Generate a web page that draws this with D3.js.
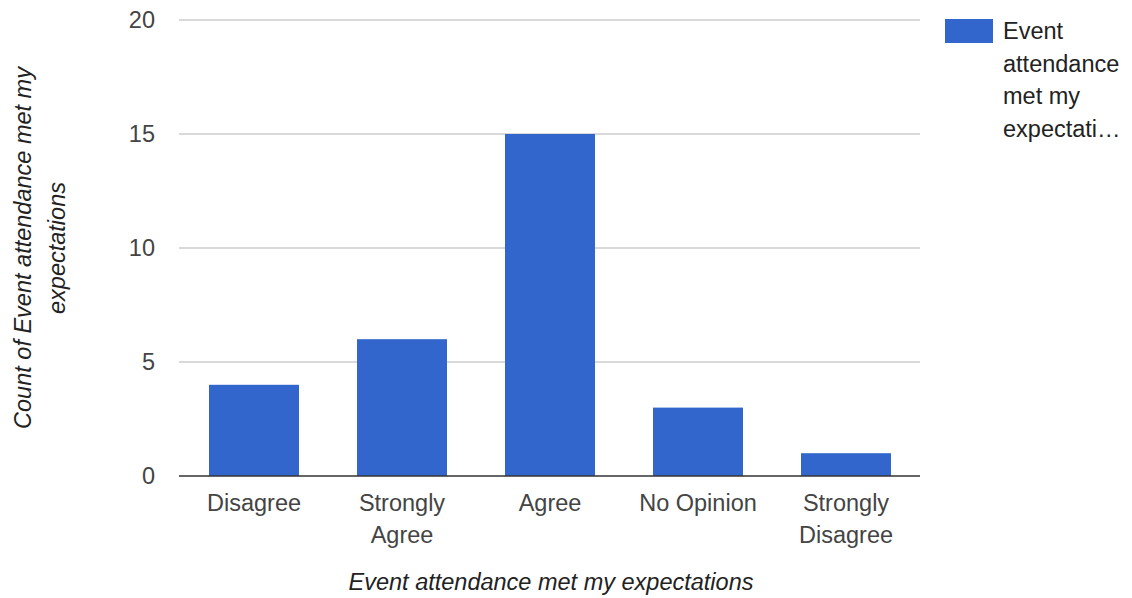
<!DOCTYPE html>
<html>
<head>
<meta charset="utf-8">
<script src="https://cdn.jsdelivr.net/npm/d3@7"></script>
<style>
  html, body { margin: 0; padding: 0; background: #fff; }
  svg { display: block; font-family: "Liberation Sans", Arial, sans-serif; }
</style>
</head>
<body>
<svg id="chart" width="1132" height="598"></svg>
<script>
// Survey responses: count per answer
const categories = ["Disagree", "Strongly Agree", "Agree", "No Opinion", "Strongly Disagree"];
const counts = [4, 6, 15, 3, 1];
const yTicks = [0, 5, 10, 15, 20];
const seriesName = "Event attendance met my expectations";
const legendLines = ["Event", "attendance", "met my", "expectati\u2026"];
const yTitleLines = ["Count of Event attendance met my", "expectations"];

const svg = d3.select("#chart");
const plot = { left: 180, right: 920, top: 20, bottom: 476 };
const barColor = "#3366cc";
const fs = 23.5;

const x = d3.scaleBand()
  .domain(categories)
  .range([plot.left, plot.right])
  .paddingInner(0.392)
  .paddingOuter(0.196);

const y = d3.scaleLinear()
  .domain([0, 20])
  .range([plot.bottom, plot.top]);

// Gridlines
svg.append("g")
  .selectAll("line")
  .data(yTicks.filter(d => d !== 0))
  .join("line")
  .attr("x1", plot.left - 1)
  .attr("x2", plot.right)
  .attr("y1", d => y(d))
  .attr("y2", d => y(d))
  .attr("stroke", "#cccccc")
  .attr("stroke-width", 1.5);

// Y tick labels
svg.append("g")
  .selectAll("text")
  .data(yTicks)
  .join("text")
  .attr("x", 155)
  .attr("y", d => y(d))
  .attr("dy", "0.36em")
  .attr("text-anchor", "end")
  .attr("font-size", fs)
  .attr("fill", "#444")
  .text(d => d);

// Bars
svg.append("g")
  .selectAll("rect")
  .data(categories.map((c, i) => ({ c, v: counts[i] })))
  .join("rect")
  .attr("x", d => x(d.c))
  .attr("width", x.bandwidth())
  .attr("y", d => y(d.v))
  .attr("height", d => y(0) - y(d.v))
  .attr("fill", barColor);

// Baseline
svg.append("line")
  .attr("x1", plot.left - 1)
  .attr("x2", plot.right)
  .attr("y1", y(0))
  .attr("y2", y(0))
  .attr("stroke", "#333")
  .attr("stroke-width", 1.5);

// X category labels (wrapped onto two lines where needed)
const xl = svg.append("g")
  .selectAll("text")
  .data(categories)
  .join("text")
  .attr("text-anchor", "middle")
  .attr("font-size", fs)
  .attr("fill", "#444");
xl.each(function(d) {
  const words = d === "No Opinion" ? [d] : d.split(" ");
  const t = d3.select(this);
  words.forEach((w, i) => {
    t.append("tspan")
      .attr("x", x(d) + x.bandwidth() / 2)
      .attr("y", 511 + i * 32)
      .text(w);
  });
});

// X axis title
svg.append("text")
  .attr("x", 551)
  .attr("y", 590)
  .attr("text-anchor", "middle")
  .attr("font-size", fs)
  .attr("font-style", "italic")
  .attr("fill", "#222")
  .text(seriesName);

// Y axis title
const yt = svg.append("text")
  .attr("transform", "translate(0,248) rotate(-90)")
  .attr("text-anchor", "middle")
  .attr("font-size", fs)
  .attr("font-style", "italic")
  .attr("fill", "#222");
yTitleLines.forEach((line, i) => {
  yt.append("tspan")
    .attr("x", 0)
    .attr("y", 31 + i * 34)
    .text(line);
});

// Legend
const legend = svg.append("g");
legend.append("rect")
  .attr("x", 945)
  .attr("y", 19)
  .attr("width", 48)
  .attr("height", 24)
  .attr("fill", barColor);
legend.append("text")
  .attr("font-size", fs)
  .attr("fill", "#222")
  .selectAll("tspan")
  .data(legendLines)
  .join("tspan")
  .attr("x", 1003)
  .attr("y", (d, i) => 39 + i * 32.7)
  .text(d => d);
</script>
</body>
</html>
